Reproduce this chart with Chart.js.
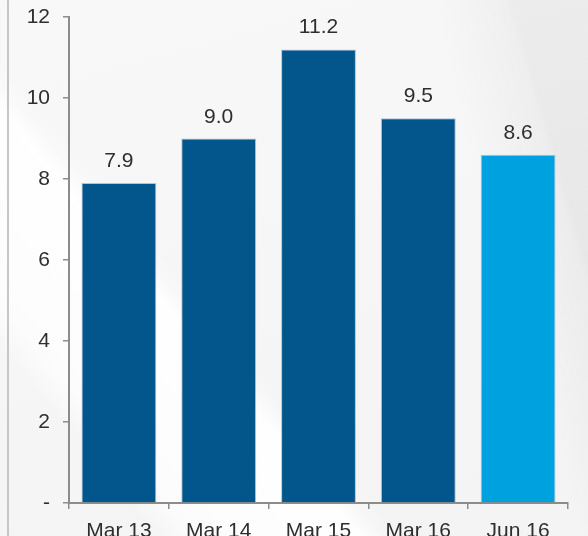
<!DOCTYPE html>
<html>
<head>
<meta charset="utf-8">
<style>
  html, body { margin: 0; padding: 0; }
  body {
    width: 588px;
    height: 536px;
    overflow: hidden;
    background:
      linear-gradient(to right, transparent 7px, #c6c6c6 7px, #c6c6c6 9px, transparent 9px),
      linear-gradient(50deg, transparent 120px, rgba(255,255,255,0.7) 150px, rgba(255,255,255,0.95) 275px, rgba(255,255,255,0.25) 292px, transparent 305px),
      linear-gradient(74deg, rgba(255,255,255,0.6) 560px, rgba(255,255,255,0.2) 632px, transparent 640px),
      linear-gradient(165deg, #eeeeee 0%, #e8e8e8 55%, #e3e3e3 100%);
  }
  #wrap { position: absolute; left: 0; top: 0; width: 588px; height: 536px; }
</style>
<script src="https://cdn.jsdelivr.net/npm/chart.js@4"></script>
</head>
<body>
<div id="wrap"><canvas id="barChart" width="588" height="536"></canvas></div>
<script>
const periods   = ["Mar 13", "Mar 14", "Mar 15", "Mar 16", "Jun 16"];
const values    = [7.9, 9.0, 11.2, 9.5, 8.6];
const barColors = ["#02568b", "#02568b", "#02568b", "#02568b", "#00a1df"];
const yTicks    = [0, 2, 4, 6, 8, 10, 12];

const FONT = "'Liberation Sans', Arial, sans-serif";
const AXIS_GRAY = "#8c8c8c";
const TEXT_COLOR = "#2e2e2e";

// value written above each bar
const barValueLabels = {
    id: "barValueLabels",
    afterDatasetsDraw(chart) {
        const ctx = chart.ctx;
        const meta = chart.getDatasetMeta(0);
        ctx.save();
        ctx.font = `21px ${FONT}`;
        ctx.fillStyle = TEXT_COLOR;
        ctx.textAlign = "center";
        ctx.textBaseline = "alphabetic";
        meta.data.forEach((bar, i) => {
            ctx.fillText(values[i].toFixed(1), bar.x, bar.y - 16);
        });
        ctx.restore();
    }
};

new Chart(document.getElementById("barChart"), {
    type: "bar",
    data: {
        labels: periods,
        datasets: [{
            data: values,
            backgroundColor: barColors,
            borderColor: "rgba(120,160,200,0.6)",
            borderWidth: 1,
            borderSkipped: "start",
            barPercentage: 0.75,
            categoryPercentage: 1
        }]
    },
    options: {
        responsive: false,
        animation: false,
        devicePixelRatio: 1,
        layout: { padding: { top: 17, right: 20, bottom: 0, left: 0 } },
        plugins: {
            legend: { display: false },
            tooltip: { enabled: false }
        },
        scales: {
            x: {
                afterFit(scale) {
                    scale.height = 33;
                    scale.paddingLeft = 0;
                    scale.paddingRight = 0;
                },
                grid: {
                    offset: true,
                    drawOnChartArea: false,
                    drawTicks: true,
                    tickLength: 6,
                    color: AXIS_GRAY,
                    lineWidth: 1.5
                },
                border: { color: AXIS_GRAY, width: 2 },
                ticks: {
                    color: TEXT_COLOR,
                    font: { family: FONT, size: 21 },
                    padding: 10,
                    maxRotation: 0
                }
            },
            y: {
                min: 0,
                max: 12,
                afterFit(scale) {
                    scale.width = 69;
                    scale.paddingTop = 0;
                    scale.paddingBottom = 0;
                },
                afterBuildTicks(scale) {
                    scale.ticks = yTicks.map(v => ({ value: v }));
                },
                grid: {
                    drawOnChartArea: false,
                    drawTicks: true,
                    tickLength: 6,
                    color: AXIS_GRAY,
                    lineWidth: 1.5
                },
                border: { color: AXIS_GRAY, width: 2 },
                ticks: {
                    color: TEXT_COLOR,
                    font: { family: FONT, size: 21 },
                    padding: 13,
                    callback: v => (v === 0 ? "-" : v)
                }
            }
        }
    },
    plugins: [barValueLabels]
});
</script>
</body>
</html>
